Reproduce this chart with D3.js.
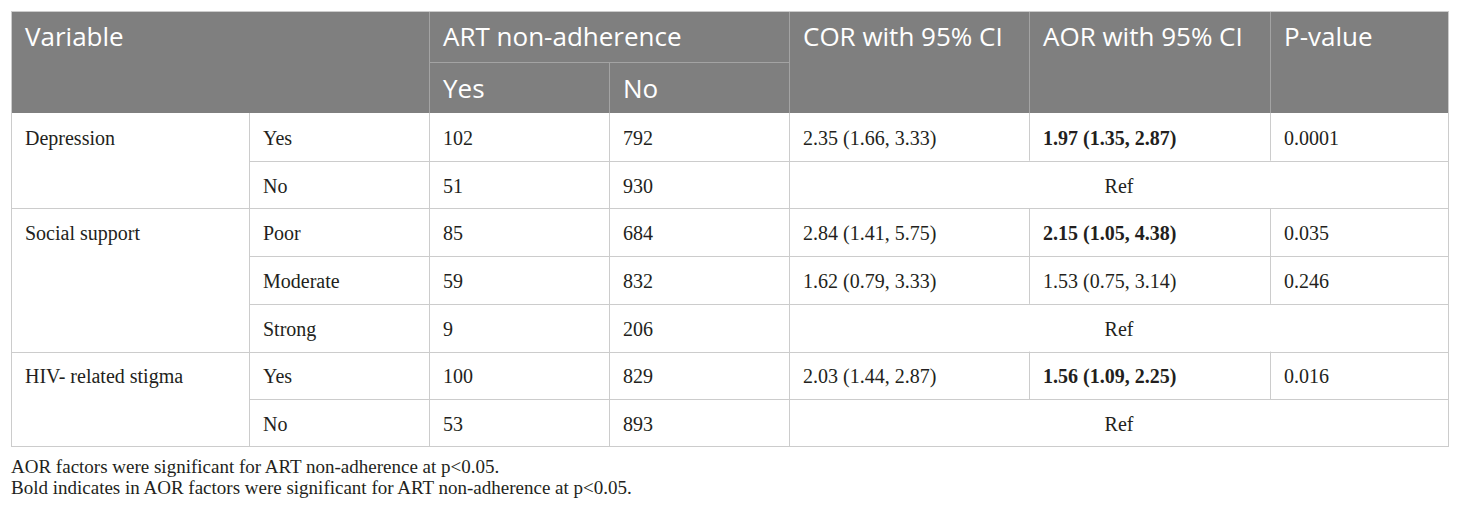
<!DOCTYPE html>
<html>
<head>
<meta charset="utf-8">
<script src="https://cdn.jsdelivr.net/npm/d3@7/dist/d3.min.js"></script>
<style>
  html, body { margin: 0; padding: 0; background: #fff; }
  svg { display: block; }
</style>
</head>
<body>
<div id="table1"></div>
<script>
// table values
var variables = ["Depression", "Social support", "HIV- related stigma"];
var groupOf = [0, 0, 1, 1, 1, 2, 2];
var categories = ["Yes", "No", "Poor", "Moderate", "Strong", "Yes", "No"];
var nonAdhYes = [102, 51, 85, 59, 9, 100, 53];
var nonAdhNo = [792, 930, 684, 832, 206, 829, 893];
var corCI = ["2.35 (1.66, 3.33)", null, "2.84 (1.41, 5.75)", "1.62 (0.79, 3.33)", null, "2.03 (1.44, 2.87)", null];
var aorCI = ["1.97 (1.35, 2.87)", null, "2.15 (1.05, 4.38)", "1.53 (0.75, 3.14)", null, "1.56 (1.09, 2.25)", null];
var aorBold = [true, false, true, false, false, true, false];
var pValues = ["0.0001", null, "0.035", "0.246", null, "0.016", null];
var headerTop = ["Variable", "ART non-adherence", "COR with 95% CI", "AOR with 95% CI", "P-value"];
var headerSub = ["Yes", "No"];
var refLabel = "Ref";
var footnotes = [
  "AOR factors were significant for ART non-adherence at p<0.05.",
  "Bold indicates in AOR factors were significant for ART non-adherence at p<0.05."
];

var W = 1460, H = 511;
var colX = [11, 249, 429, 609, 789, 1029, 1270, 1449];
var top0 = 11, headMid = 62, headBot = 113, tableBot = 447;
var pad = 14;
var lineCol = "#cccccc", headLine = "#a3a3a3", headFill = "#7f7f7f";
var serif = "'Liberation Serif', 'Times New Roman', serif";
var sans = "'Open Sans', 'Noto Sans', sans-serif";

var y = d3.scaleBand().domain(d3.range(categories.length)).range([headBot, tableBot]);

var svg = d3.select("#table1").append("svg")
  .attr("width", W)
  .attr("height", H);

// header
svg.append("rect")
  .attr("x", colX[0]).attr("y", top0)
  .attr("width", colX[7] - colX[0]).attr("height", headBot - top0)
  .attr("fill", headFill);

var hl = svg.append("g").attr("stroke", headLine).attr("stroke-width", 1);
[2, 4, 5, 6].forEach(function(i) {
  hl.append("line").attr("x1", colX[i] + 0.5).attr("x2", colX[i] + 0.5).attr("y1", top0).attr("y2", headBot);
});
hl.append("line").attr("x1", colX[3] + 0.5).attr("x2", colX[3] + 0.5).attr("y1", headMid).attr("y2", headBot);
hl.append("line").attr("x1", colX[2]).attr("x2", colX[4]).attr("y1", headMid + 0.5).attr("y2", headMid + 0.5);

var headCols = [0, 2, 4, 5, 6];
svg.append("g").selectAll("text")
  .data(headerTop)
  .enter().append("text")
  .attr("x", function(d, i) { return colX[headCols[i]] + pad; })
  .attr("y", (top0 + headMid) / 2)
  .attr("dy", "0.35em")
  .attr("fill", "#fff")
  .style("font-family", sans)
  .style("font-size", "26px")
  .text(function(d) { return d; });

svg.append("g").selectAll("text")
  .data(headerSub)
  .enter().append("text")
  .attr("x", function(d, i) { return colX[2 + i] + pad; })
  .attr("y", (headMid + headBot) / 2 + 1)
  .attr("dy", "0.35em")
  .attr("fill", "#fff")
  .style("font-family", sans)
  .style("font-size", "26px")
  .text(function(d) { return d; });

// body grid
var g = svg.append("g").attr("stroke", lineCol).attr("stroke-width", 1);
d3.range(1, categories.length).forEach(function(i) {
  var yy = Math.round(y(i)) + 0.5;
  var newGroup = groupOf[i] !== groupOf[i - 1];
  g.append("line").attr("x1", newGroup ? colX[0] : colX[1]).attr("x2", colX[7]).attr("y1", yy).attr("y2", yy);
});
[1, 2, 3, 4].forEach(function(i) {
  g.append("line").attr("x1", colX[i] + 0.5).attr("x2", colX[i] + 0.5).attr("y1", headBot).attr("y2", tableBot);
});
categories.forEach(function(c, i) {
  if (corCI[i] === null) return;
  [5, 6].forEach(function(k) {
    g.append("line").attr("x1", colX[k] + 0.5).attr("x2", colX[k] + 0.5)
      .attr("y1", y(i)).attr("y2", y(i) + y.bandwidth());
  });
});
svg.append("rect")
  .attr("x", colX[0] + 0.5).attr("y", top0 + 0.5)
  .attr("width", colX[7] - colX[0] - 1).attr("height", tableBot - top0 - 1)
  .attr("fill", "none").attr("stroke", lineCol);

// body text
var body = svg.append("g")
  .style("font-family", serif)
  .style("font-size", "20px")
  .attr("fill", "#231f20");

function cell(col, row, txt, bold) {
  body.append("text")
    .attr("x", colX[col] + pad)
    .attr("y", y(row) + y.bandwidth() / 2)
    .attr("dy", "0.4em")
    .style("font-weight", bold ? "bold" : "normal")
    .text(txt);
}

categories.forEach(function(c, i) {
  if (i === 0 || groupOf[i] !== groupOf[i - 1]) cell(0, i, variables[groupOf[i]], false);
  cell(1, i, c, false);
  cell(2, i, nonAdhYes[i], false);
  cell(3, i, nonAdhNo[i], false);
  if (corCI[i] === null) {
    body.append("text")
      .attr("x", (colX[4] + colX[7]) / 2)
      .attr("y", y(i) + y.bandwidth() / 2)
      .attr("dy", "0.4em")
      .attr("text-anchor", "middle")
      .text(refLabel);
  } else {
    cell(4, i, corCI[i], false);
    cell(5, i, aorCI[i], aorBold[i]);
    cell(6, i, pValues[i], false);
  }
});

// footnotes
svg.append("g").selectAll("text")
  .data(footnotes)
  .enter().append("text")
  .attr("x", colX[0])
  .attr("y", function(d, i) { return 473 + i * 21; })
  .attr("fill", "#231f20")
  .style("font-family", serif)
  .style("font-size", "19px")
  .text(function(d) { return d; });
</script>
</body>
</html>
